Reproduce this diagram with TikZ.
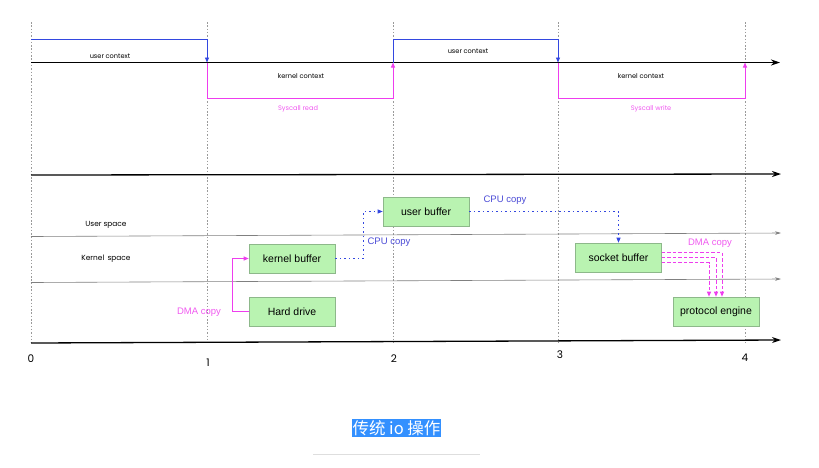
\documentclass[tikz,border=0pt]{standalone}
\usepackage{fontspec}
\setmainfont{Liberation Sans}
\newfontfamily\geo{Poppins}
\newfontfamily\cjk{Noto Sans CJK SC}
\usetikzlibrary{arrows.meta}
\definecolor{boxfill}{HTML}{B9F3B1}
\definecolor{boxline}{HTML}{8DB88A}
\definecolor{userblue}{HTML}{3347E0}
\definecolor{kernmag}{HTML}{EE3DEE}
\definecolor{labmag}{HTML}{F05AF0}
\definecolor{cpublue}{HTML}{4B4BD6}
\definecolor{capblue}{HTML}{3390FF}
\definecolor{tickgray}{HTML}{9A9A9A}
\begin{document}
\begin{tikzpicture}[x=1pt,y=-1pt,
  buf/.style={draw=boxline, fill=boxfill, line width=0.6pt, minimum width=86pt,
    minimum height=29pt, inner sep=0pt, font=\fontsize{10.5}{12}\selectfont},
  tickline/.style={draw=tickgray, line width=0.5pt, dash pattern=on 1.5pt off 1.8pt},
  mainaxis/.style={line width=1.3pt, -{Stealth[length=9pt,width=6pt]}},
  thinaxis/.style={draw=gray, line width=0.6pt, -{Stealth[length=6pt,width=3.5pt]}},
  ctxlabel/.style={font=\geo\fontsize{6.6}{7}\selectfont},
  spacelabel/.style={font=\geo\fontsize{7.4}{8}\selectfont},
  numlabel/.style={font=\geo\fontsize{10.5}{11}\selectfont},
  userpath/.style={draw=userblue, line width=0.9pt, -{Triangle[length=5pt,width=4pt]}},
  kernpath/.style={draw=kernmag, line width=0.9pt, -{Triangle[length=5pt,width=4pt]}},
  dmaline/.style={color=kernmag, line width=1pt, -{Triangle[length=5pt,width=4pt]}},
  dmadash/.style={draw=kernmag, line width=0.9pt, dash pattern=on 3.5pt off 2pt, -{Triangle[length=5pt,width=4pt]}},
  cpuline/.style={draw=userblue, line width=0.8pt, dash pattern=on 1.5pt off 3pt, -{Triangle[length=5pt,width=4pt]}},
  copylabel/.style={font=\fontsize{9.5}{11}\selectfont}
]
\useasboundingbox (0,0) rectangle (819,467);

% time marks 0..4
\foreach \i/\x in {0/31,1/207,2/393,3/558,4/745}{
  \coordinate (top\i) at (\x,22);
  \coordinate (bot\i) at (\x,343);
  \draw[tickline] (top\i) -- (bot\i);
}

% ---- context switching timeline ----
\coordinate (ctxstart) at (31,62.5);
\coordinate (ctxend) at (780,62.5);
\draw[mainaxis] (ctxstart) -- (ctxend);

\foreach \i/\x in {0/31,1/207,2/393,3/558,4/745}{
  \coordinate (up\i) at (\x,39);
  \coordinate (mid\i) at (\x,62.5);
  \coordinate (dn\i) at (\x,98);
}
\draw[userpath] (up0) -- (up1) -- (mid1);
\draw[kernpath] (mid1) -- (dn1) -- (dn2) -- (mid2);
\draw[userpath] (mid2) -- (up2) -- (up3) -- (mid3);
\draw[kernpath] (mid3) -- (dn3) -- (dn4) -- (mid4);

\node[ctxlabel] (uc1) at (110,56) {user context};
\node[ctxlabel] (kc1) at (301,76) {kernel context};
\node[ctxlabel, text=labmag] (sr) at (298,109) {Syscall read};
\node[ctxlabel] (uc2) at (468,51) {user context};
\node[ctxlabel] (kc2) at (641,76) {kernel context};
\node[ctxlabel, text=labmag] (sw) at (651,109) {Syscall write};

% ---- data copy timeline ----
\coordinate (a1s) at (31,175);   \coordinate (a1e) at (781,174);
\coordinate (a2s) at (31,236.5); \coordinate (a2e) at (781,233);
\coordinate (a3s) at (31,282.5); \coordinate (a3e) at (781,279);
\coordinate (a4s) at (31,343);   \coordinate (a4e) at (781,340);
\draw[mainaxis] (a1s) -- (a1e);
\draw[thinaxis] (a2s) -- (a2e);
\draw[thinaxis] (a3s) -- (a3e);
\draw[mainaxis] (a4s) -- (a4e);

\node[spacelabel] (us) at (106,225) {User space};
\node[spacelabel] (ks) at (106,259) {Kernel\,\ space};

\node[buf] (ubuf) at (426,211.5) {user buffer};
\node[buf] (kbuf) at (292,258.5) {kernel buffer};
\node[buf] (hd) at (292,311.5) {Hard drive};
\node[buf] (sbuf) at (618.5,257.5) {socket buffer};
\node[buf] (pe) at (716,311.5) {protocol engine};

% hard drive -> kernel buffer
\coordinate (dmabend) at (232,311.5);
\draw[dmaline] (hd.west) -- (dmabend) |- (kbuf.west);
\node[copylabel, text=labmag] (dma1) at (199,312) {DMA copy};

% kernel buffer -> user buffer
\draw[cpuline] (kbuf.east) -- ++(28,0) |- (ubuf.west);
\node[copylabel, text=cpublue] (cpu1) at (389,242) {CPU copy};

% user buffer -> socket buffer
\draw[cpuline] (ubuf.east) -| (sbuf.north);
\node[copylabel, text=cpublue] (cpu2) at (505,200) {CPU copy};

% socket buffer -> protocol engine (upper line reaches farthest right)
\draw[dmadash] ([yshift=5pt]sbuf.east) -| ([xshift=6pt]pe.north);
\draw[dmadash] (sbuf.east) -| ([xshift=0pt]pe.north);
\draw[dmadash] ([yshift=-5pt]sbuf.east) -| ([xshift=-7pt]pe.north);
\node[copylabel, text=labmag] (dma2) at (710,243) {DMA copy};

% time labels
\node[numlabel] (n0) at (31,359) {0};
\node[numlabel] (n1) at (208,363) {1};
\node[numlabel] (n2) at (394,359) {2};
\node[numlabel] (n3) at (560,355) {3};
\node[numlabel] (n4) at (745,358) {4};

% caption
\node[fill=capblue, text=white, inner xsep=0.5pt, inner ysep=1pt,
  font=\cjk\fontsize{16.5}{17}\selectfont] (cap) at (396.5,428) {传统 io 操作};
\coordinate (rulel) at (313,454);
\coordinate (ruler) at (480,454);
\draw[draw=black!13, line width=1pt] (rulel) -- (ruler);
\end{tikzpicture}
\end{document}
